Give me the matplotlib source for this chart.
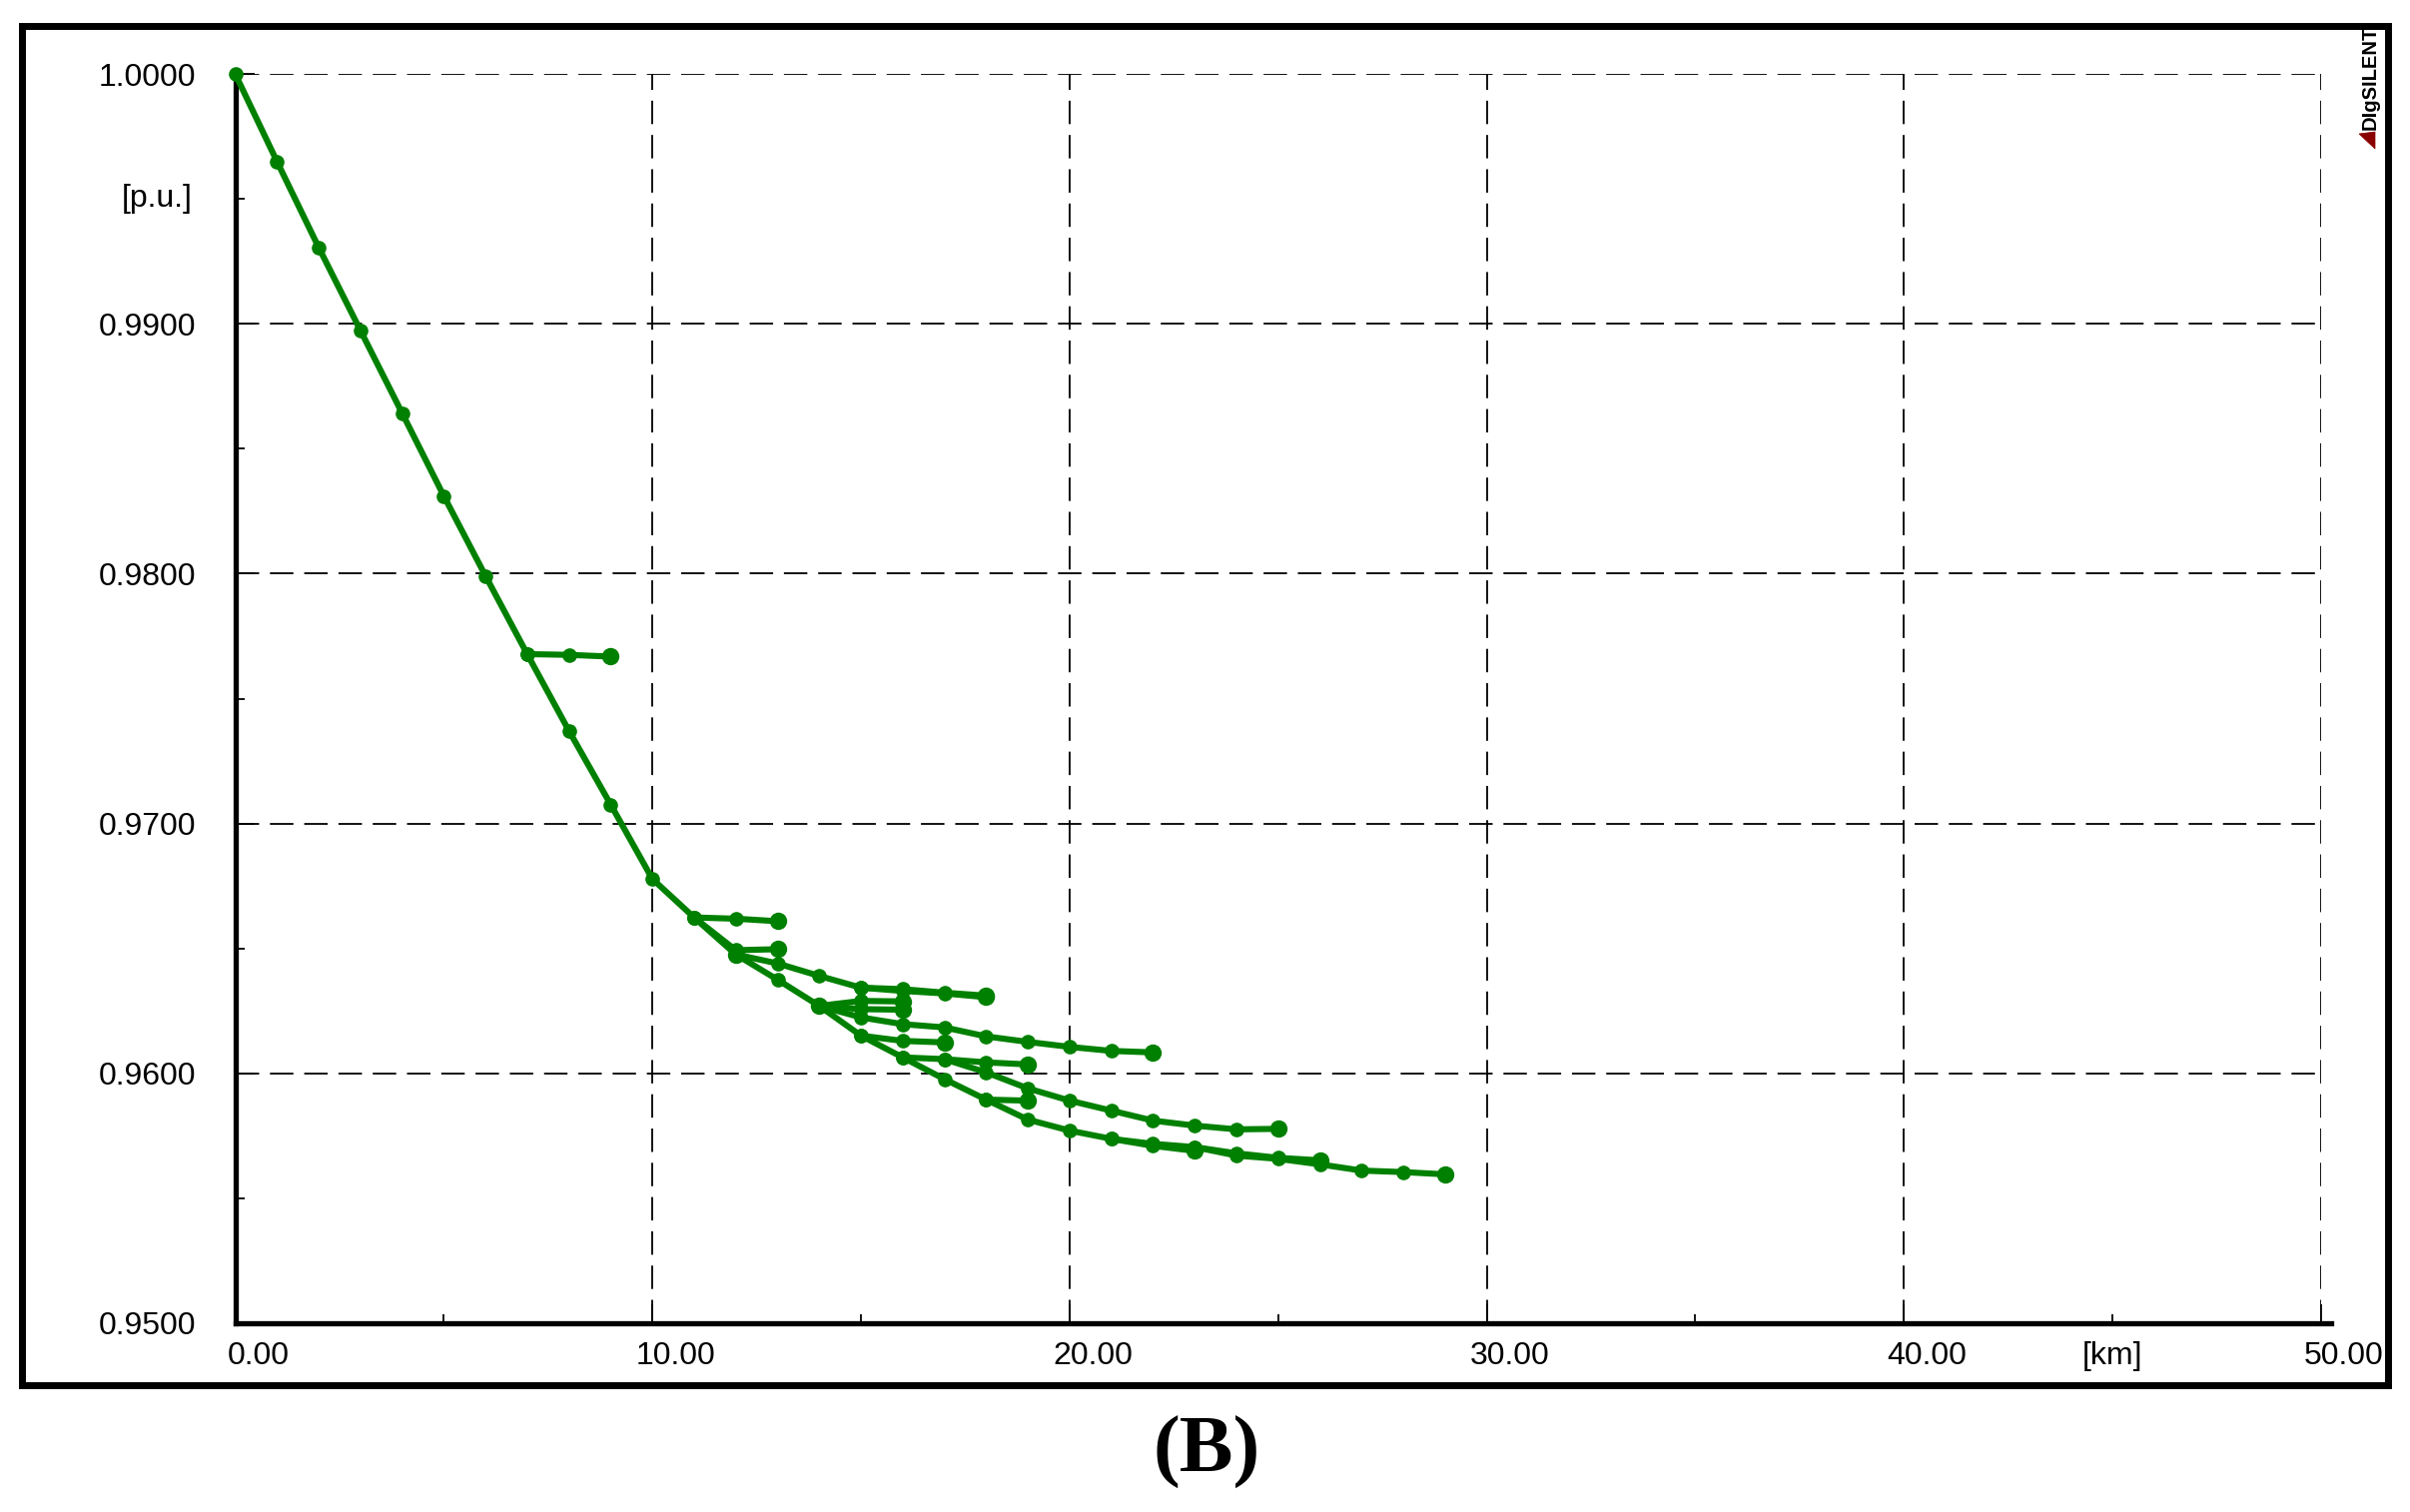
import matplotlib
matplotlib.use('Agg')
import matplotlib.pyplot as plt
import matplotlib.transforms as mtransforms
from matplotlib.patches import Rectangle, Polygon

# Perfil de tension a lo largo del alimentador (km, p.u.)
trunk_km = [0, 1, 2, 3, 4, 5, 6, 7, 8, 9, 10, 11, 12]
trunk_pu = [1.0000, 0.99650, 0.99306, 0.98974, 0.98643, 0.98311, 0.97991,
            0.97678, 0.97371, 0.97076, 0.96778, 0.96624, 0.96476]

branch_a_km = [7, 8, 9]
branch_a_pu = [0.97678, 0.97675, 0.97668]

branch_b_km = [11, 12, 13]
branch_b_pu = [0.96624, 0.96619, 0.96609]

branch_c_km = [11, 12, 13]
branch_c_pu = [0.96624, 0.96493, 0.96497]

line_d_km = [12, 13, 14, 15, 16, 17, 18]
line_d_pu = [0.96476, 0.96440, 0.96390, 0.96343, 0.96337, 0.96323, 0.96311]

branch_d2_km = [15, 16, 17, 18]
branch_d2_pu = [0.96343, 0.96330, 0.96320, 0.96305]

line_e_km = [12, 13, 14]
line_e_pu = [0.96476, 0.96375, 0.96270]

branch_k1_km = [14, 15, 16]
branch_k1_pu = [0.96270, 0.96290, 0.96288]

branch_k2_km = [14, 15, 16]
branch_k2_pu = [0.96270, 0.96257, 0.96255]

line_l_km = [14, 15, 16, 17, 18, 19, 20, 21, 22]
line_l_pu = [0.96270, 0.96224, 0.96197, 0.96184, 0.96148, 0.96126, 0.96106,
             0.96090, 0.96084]

line_f_km = [14, 15, 16, 17, 18, 19, 20, 21, 22, 23, 24, 25, 26, 27, 28, 29]
line_f_pu = [0.96270, 0.96151, 0.96064, 0.95977, 0.95895, 0.95815, 0.95771,
             0.95738, 0.95718, 0.95705, 0.95671, 0.95658, 0.95636, 0.95611,
             0.95605, 0.95596]

branch_j_km = [15, 16, 17]
branch_j_pu = [0.96151, 0.96130, 0.96124]

line_g_km = [16, 17, 18, 19, 20, 21, 22, 23, 24, 25]
line_g_pu = [0.96064, 0.96057, 0.96004, 0.95940, 0.95891, 0.95851, 0.95811,
             0.95791, 0.95776, 0.95778]

branch_h_km = [17, 18, 19]
branch_h_pu = [0.96057, 0.96044, 0.96036]

branch_i_km = [18, 19]
branch_i_pu = [0.95895, 0.95891]

branch_m_km = [21, 22, 23]
branch_m_pu = [0.95738, 0.95710, 0.95690]

branch_n_km = [23, 24, 25, 26]
branch_n_pu = [0.95705, 0.95680, 0.95662, 0.95652]

series = [
    (trunk_km, trunk_pu), (branch_a_km, branch_a_pu), (branch_b_km, branch_b_pu),
    (branch_c_km, branch_c_pu), (line_d_km, line_d_pu), (branch_d2_km, branch_d2_pu),
    (line_e_km, line_e_pu), (branch_k1_km, branch_k1_pu), (branch_k2_km, branch_k2_pu),
    (line_l_km, line_l_pu), (line_f_km, line_f_pu), (branch_j_km, branch_j_pu),
    (line_g_km, line_g_pu), (branch_h_km, branch_h_pu), (branch_i_km, branch_i_pu),
    (branch_m_km, branch_m_pu), (branch_n_km, branch_n_pu),
]

x_ticks = [0, 10, 20, 30, 40, 50]
x_labels = ['0.00', '10.00', '20.00', '30.00', '40.00', '50.00']
y_ticks = [0.95, 0.96, 0.97, 0.98, 0.99, 1.00]
y_labels = ['0.9500', '0.9600', '0.9700', '0.9800', '0.9900', '1.0000']

W, H = 2413, 1514
fnt = ['Liberation Sans Narrow', 'Liberation Sans', 'DejaVu Sans']
fsize = 23
green = '#008000'

fig = plt.figure(figsize=(W / 100, H / 100), dpi=100)
ax = fig.add_axes([235.5 / W, 1 - 1325 / H, (2324 - 235.5) / W, (1325 - 74) / H])

for km, pu in series:
    ax.plot(km, pu, color=green, lw=4.4, marker='o', ms=9.5, clip_on=False, zorder=3)
    ax.plot(km[-1], pu[-1], color=green, marker='o', ms=11.5, ls='none',
            clip_on=False, zorder=3)

ax.set_xlim(0, 50)
ax.set_ylim(0.95, 1.0)
ax.set_xticks(x_ticks)
ax.set_xticks([5, 15, 25, 35, 45], minor=True)
ax.set_yticks(y_ticks)
ax.set_yticklabels(y_labels)
ax.set_yticks([0.955, 0.965, 0.975, 0.985, 0.995], minor=True)

ax.grid(True, which='major', color='black', lw=1.3, ls=(0, (13, 6)), zorder=1)
ax.tick_params(which='both', direction='in', width=1.3, color='black')
ax.tick_params(which='major', length=13.5)
ax.tick_params(which='minor', length=6.8)
ax.tick_params(axis='x', labelbottom=False)
ax.tick_params(axis='y', pad=28, labelsize=fsize)
for lab in ax.get_yticklabels():
    lab.set_family(fnt)

for s in ['top', 'right']:
    ax.spines[s].set_visible(False)
for s in ['left', 'bottom']:
    ax.spines[s].set_linewidth(3.8)
ax.spines['bottom'].set_bounds(0, 50.25)

# etiquetas del eje x desplazadas a la derecha como en DIgSILENT
trans = mtransforms.blended_transform_factory(ax.transData, ax.transAxes)
for xv, lab in zip(x_ticks, x_labels):
    ax.text(xv + 0.55, -0.0331, lab, transform=trans, ha='center', va='baseline',
            fontsize=fsize, family=fnt)
ax.text(45, -0.0331, '[km]', transform=trans, ha='center', va='baseline',
        fontsize=fsize, family=fnt)

trans_y = mtransforms.blended_transform_factory(ax.transAxes, ax.transData)
ax.text(-0.0205, 0.995, '[p.u.]', transform=trans_y, ha='right', va='center',
        fontsize=fsize, family=fnt)

# marco exterior
fig.patches.append(Rectangle((21.5 / W, 1 - 1387 / H), (2390.5 - 21.5) / W,
                             (1387 - 25.5) / H, fill=False, lw=5.0, ec='black',
                             transform=fig.transFigure))

# logo
fig.text(2373 / W, 1 - 78 / H, 'DIgSILENT', rotation=90, ha='center', va='center',
         fontsize=14.5, fontweight='bold', family=['Liberation Sans', 'DejaVu Sans'])
tri = [(2362 / W, 1 - 134 / H), (2378 / W, 1 - 132 / H), (2378 / W, 1 - 149 / H)]
fig.patches.append(Polygon(tri, closed=True, fc='#8b0000', ec='#8b0000', lw=0.5,
                           transform=fig.transFigure))

fig.text(0.5006, 1 - 1454 / H, '(B)', ha='center', va='center', fontsize=58,
         fontweight='bold', family=['Liberation Serif', 'DejaVu Serif'])

fig.savefig('out.png', dpi=100, facecolor='white')
